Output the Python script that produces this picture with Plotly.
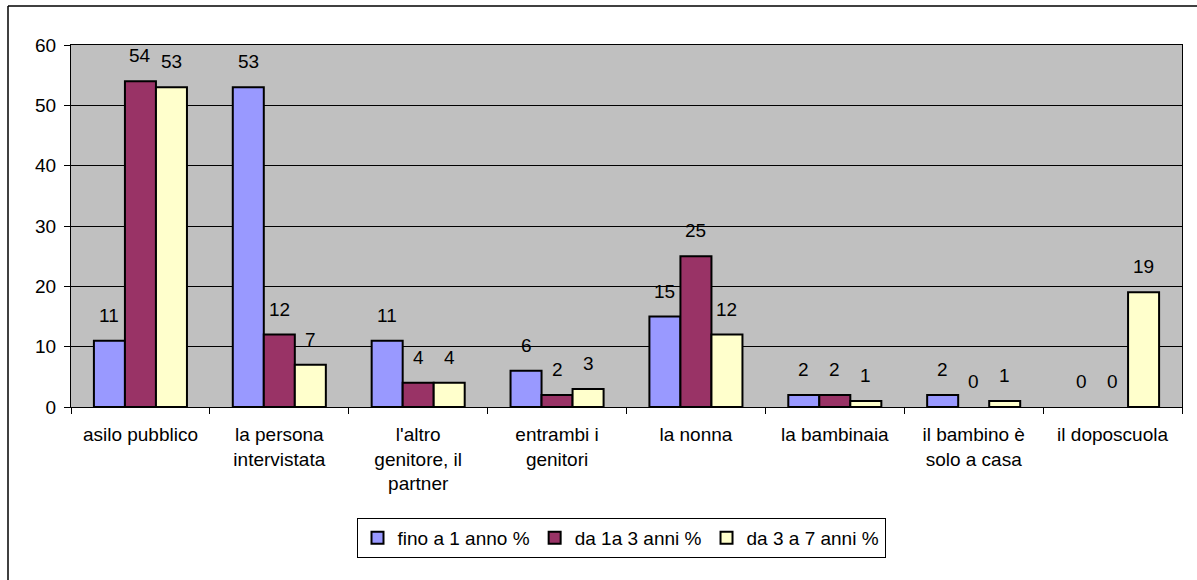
import plotly.graph_objects as go

categories = ["asilo pubblico", "la persona<br>intervistata", "l'altro<br>genitore, il<br>partner",
              "entrambi i<br>genitori", "la nonna", "la bambinaia", "il bambino è<br>solo a casa",
              "il doposcuola"]
series_names = ["fino a 1 anno %", "da 1a 3 anni %", "da 3 a 7 anni %"]
fino_1 = [11, 53, 11, 6, 15, 2, 2, 0]
da_1_3 = [54, 12, 4, 2, 25, 2, 0, 0]
da_3_7 = [53, 7, 4, 3, 12, 1, 1, 19]
colors = ["#9999FF", "#993366", "#FFFFCC"]

W, H = 1197, 580
L, R, T, B = 71, 15, 45, 173
FS = 19
font = "Arial, Liberation Sans, sans-serif"
BARGAP = 0.33

pw = W - L - R
ph = H - T - B
def px2x(p):
    return (p - L) / pw
def py2y(p):
    return (H - B - p) / ph

fig = go.Figure()
all_series = [fino_1, da_1_3, da_3_7]
for name, vals, col in zip(series_names, all_series, colors):
    fig.add_trace(go.Bar(
        x=categories, y=vals, name=name,
        marker=dict(color=col, line=dict(color="black", width=[0 if v == 0 else 2 for v in vals])),
        cliponaxis=False,
    ))

bar_px = pw / len(categories) * (1 - BARGAP) / len(all_series)
annotations = []
for i, vals in enumerate(all_series):
    for c, v in zip(categories, vals):
        annotations.append(dict(x=c, y=v, xref="x", yref="y", text=str(v), showarrow=False,
                                xshift=(i - 1) * bar_px, yshift=13, yanchor="bottom",
                                font=dict(size=FS, color="black", family=font)))

fig.update_layout(
    width=W, height=H,
    margin=dict(l=L, r=R, t=T, b=B, autoexpand=False),
    paper_bgcolor="white", plot_bgcolor="#C0C0C0",
    barmode="group", bargap=BARGAP, bargroupgap=0,
    font=dict(family=font, size=FS, color="black"),
    showlegend=True,
    legend=dict(orientation="h", x=px2x(621), xanchor="center", y=py2y(518), yanchor="top",
                bgcolor="white", bordercolor="black", borderwidth=1,
                font=dict(size=FS), itemwidth=30, traceorder="normal",
                tracegroupgap=0, itemclick=False),
    xaxis=dict(showline=True, linecolor="black", linewidth=1, mirror=True,
               ticks="outside", tickson="boundaries", ticklen=6, tickcolor="black",
               ticklabelstandoff=10,
               showgrid=False, tickfont=dict(size=FS), fixedrange=True),
    yaxis=dict(range=[0, 60], dtick=10, showline=True, linecolor="black", linewidth=1,
               mirror=True, ticks="outside", ticklen=6, tickcolor="black",
               ticklabelstandoff=4,
               showgrid=True, gridcolor="black", gridwidth=1, zeroline=False,
               tickfont=dict(size=FS), fixedrange=True),
    annotations=annotations,
    shapes=[
        dict(type="line", xref="paper", yref="paper",
             x0=px2x(8), x1=px2x(W), y0=py2y(6), y1=py2y(6),
             line=dict(color="black", width=1.5)),
        dict(type="line", xref="paper", yref="paper",
             x0=px2x(8), x1=px2x(8), y0=py2y(6), y1=py2y(H),
             line=dict(color="black", width=1.5)),
    ],
)

fig.write_html("out.html", config={"displayModeBar": False},
               post_script="document.body.style.margin='0';document.body.style.overflow='hidden';")
